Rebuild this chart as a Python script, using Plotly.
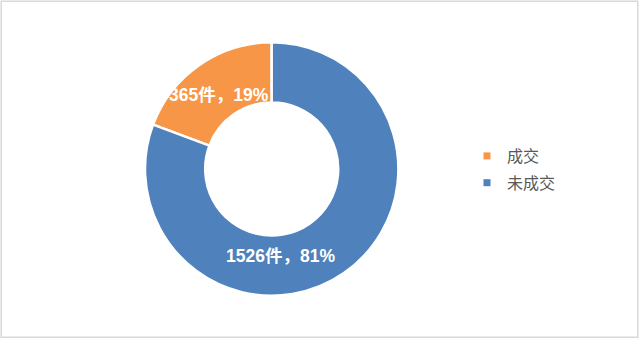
import plotly.graph_objects as go

categories = ["成交", "未成交"]
counts = [365, 1526]
colors = ["#F79646", "#4F81BD"]
unit = "件"

total = sum(counts)
pcts = [round(v / total * 100) for v in counts]
label_texts = [f"{v}{unit}，{p}%" for v, p in zip(counts, pcts)]

W, H = 639, 351
cx, cy, r = 271.7, 169.0, 126.7

# first slice ends at 12 o'clock (drawn counterclockwise from the top)
rot = -360.0 * counts[0] / total

fig = go.Figure()
fig.add_trace(go.Pie(
    labels=categories, values=counts, hole=0.525, sort=False,
    direction="clockwise", rotation=rot,
    marker=dict(colors=colors, line=dict(color="white", width=2.5)),
    textinfo="none", showlegend=False, hoverinfo="label+value+percent",
    domain=dict(x=[(cx - r) / W, (cx + r) / W], y=[(H - cy - r) / H, (H - cy + r) / H]),
))

# legend entries with small square markers
for i, (c, col) in enumerate(zip(categories, colors)):
    fig.add_trace(go.Scatter(
        x=[None], y=[None], mode="markers", name=c, legendgroup=f"g{i}",
        marker=dict(symbol="square", size=7, color=col),
    ))

# data labels
label_pos = [(219, 95), (280.5, 256)]
for t, (px, py) in zip(label_texts, label_pos):
    fig.add_annotation(
        x=px / W, y=(H - py) / H, xref="paper", yref="paper", text=f"<b>{t}</b>",
        showarrow=False, xanchor="center", yanchor="middle",
        font=dict(family="Liberation Sans, Noto Sans CJK SC", size=17.5, color="white"),
    )

fig.add_shape(type="rect", xref="paper", yref="paper",
              x0=1.2 / W, x1=637.8 / W, y0=(H - 337.3) / H, y1=(H - 1.2) / H,
              line=dict(color="#D9D9D9", width=1.5), fillcolor="rgba(0,0,0,0)", layer="below")

fig.update_layout(
    width=W, height=H, margin=dict(l=0, r=0, t=0, b=0),
    paper_bgcolor="white", plot_bgcolor="white",
    xaxis=dict(visible=False), yaxis=dict(visible=False),
    legend=dict(x=467 / W, y=(H - 139) / H, xanchor="left", yanchor="top",
                font=dict(family="Noto Sans CJK SC", size=16, color="#595959"),
                tracegroupgap=3, itemwidth=30, bgcolor="rgba(0,0,0,0)"),
    showlegend=True,
)

fig.write_html("out.html")
